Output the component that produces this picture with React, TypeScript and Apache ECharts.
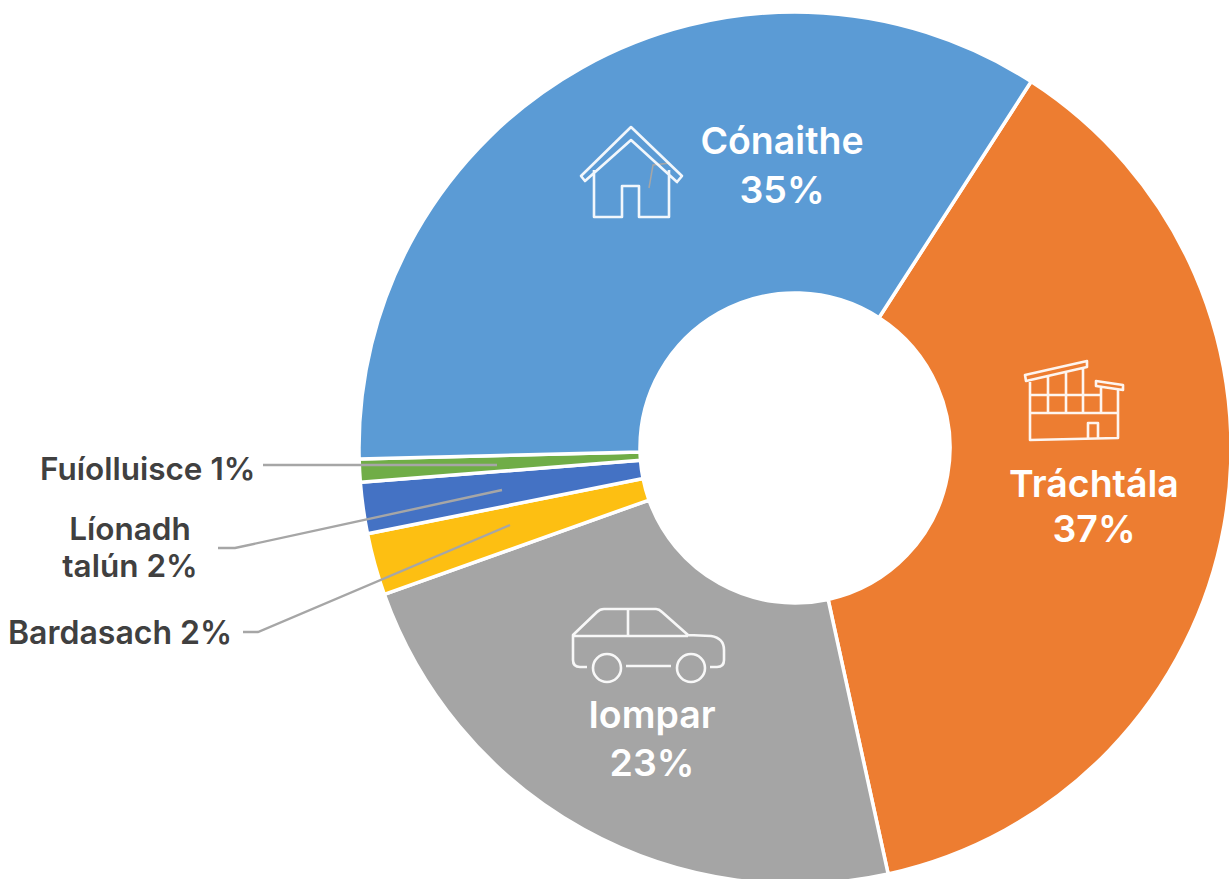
import React, { useEffect, useRef } from "react";
import * as echarts from "echarts";

const categories = ["Tráchtála", "Iompar", "Bardasach", "Líonadh talún", "Fuíolluisce", "Cónaithe"];
const labelTexts = ["Tráchtála\n37%", "Iompar\n23%", "Bardasach 2%", "Líonadh\ntalún 2%", "Fuíolluisce 1%", "Cónaithe\n35%"];
const shares = [37.5, 23.0, 2.3, 1.9, 0.85, 34.55];
const colors = ["#ED7D31", "#A5A5A5", "#FDBF12", "#4472C4", "#70AD47", "#5B9BD5"];

const FONT = "Inter, Lato, sans-serif";
const labelPlaces = [
  { x: 1094, y: 506, align: "center", size: 37.5, lh: 45, color: "#fff" },
  { x: 652, y: 738, align: "center", size: 37.5, lh: 48, color: "#fff" },
  { x: 8, y: 632, align: "left", size: 32, lh: 37, color: "#404040" },
  { x: 130, y: 547, align: "center", size: 31.5, lh: 37, color: "#404040" },
  { x: 40, y: 468, align: "left", size: 31.5, lh: 37, color: "#404040" },
  { x: 782, y: 165, align: "center", size: 37.5, lh: 49, color: "#fff" },
];

const HOUSE = "M631 127 L581 176 L585 181 L631 140 L677 182 L682 176 Z M594 170 L594 217 L622 217 L622 186 L639 186 L639 217 L669 217 L669 170";
const BUILDING = "M1025 375 L1087 361 L1087 367 L1026 381 Z M1030 382 L1030 440 L1118 438 L1118 390 M1096 381 L1123 385 L1123 390 L1096 386 Z M1048 377 L1048 413 M1066 373 L1066 413 M1083 368 L1083 413 M1101 386 L1101 413 M1030 395 L1101 395 M1030 413 L1118 413 M1088 438 L1088 423 L1098 423 L1098 438";
const CAR = "M587 667 L580 667 Q573 667 573 660 L573 635 L597 612 Q600 609 604 609 L656 609 Q659 609 662 612 L688 635 L711 636 Q724 638 724 650 L724 660 Q724 667 717 667 L710 667 M573 636 L688 636 M628 609 L628 636 M626 666 L671 666 M621 668 A14 14 0 1 1 593 668 A14 14 0 1 1 621 668 M705 668 A14 14 0 1 1 677 668 A14 14 0 1 1 705 668";

echarts.graphic.registerShape("houseIcon", echarts.graphic.extendPath(HOUSE, {}));
echarts.graphic.registerShape("buildingIcon", echarts.graphic.extendPath(BUILDING, {}));
echarts.graphic.registerShape("carIcon", echarts.graphic.extendPath(CAR, {}));

const leaders = [
  [[263, 465], [497, 465]],
  [[218, 548], [235, 548], [502, 490]],
  [[243, 632], [258, 632], [510, 525]],
  [[649, 188], [653, 165], [670, 163]],
];

const iconStyle = { fill: "none", stroke: "#fff", lineWidth: 2.6, opacity: 0.92, lineJoin: "round" };

export default function App() {
  const ref = useRef<HTMLDivElement>(null);
  useEffect(() => {
    const chart = echarts.init(ref.current!, null, { renderer: "svg" });
    chart.setOption({
      animation: false,
      backgroundColor: "#fff",
      textStyle: { fontFamily: FONT },
      series: [
        {
          type: "pie",
          center: [795, 448],
          radius: [155, 436],
          startAngle: 57.2,
          clockwise: true,
          avoidLabelOverlap: false,
          silent: true,
          itemStyle: { borderColor: "#fff", borderWidth: 3.5 },
          labelLine: { show: false },
          label: { show: true, position: "inside" },
          labelLayout: (p: any) => {
            const l = labelPlaces[p.dataIndex];
            return { x: l.x, y: l.y, align: l.align, verticalAlign: "middle", hideOverlap: false };
          },
          data: categories.map((name, i) => ({
            name,
            value: shares[i],
            itemStyle: { color: colors[i] },
            label: {
              formatter: labelTexts[i],
              fontFamily: FONT,
              fontWeight: 600,
              fontSize: labelPlaces[i].size,
              lineHeight: labelPlaces[i].lh,
              color: labelPlaces[i].color,
              align: labelPlaces[i].align,
            },
          })),
        },
      ],
      graphic: [
        ...leaders.map((points, i) => ({
          type: "polyline",
          z: 5,
          shape: { points },
          style: { fill: "none", stroke: "#A6A6A6", lineWidth: i === 3 ? 1.5 : 2.4 },
        })),
        { type: "houseIcon", z: 6, style: iconStyle },
        { type: "buildingIcon", z: 6, style: iconStyle },
        { type: "carIcon", z: 6, style: iconStyle },
      ],
    });
    return () => chart.dispose();
  }, []);
  return (
    <div
      ref={ref}
      style={{ position: "absolute", left: 0, top: 0, width: 1229, height: 879, overflow: "hidden" }}
    />
  );
}
